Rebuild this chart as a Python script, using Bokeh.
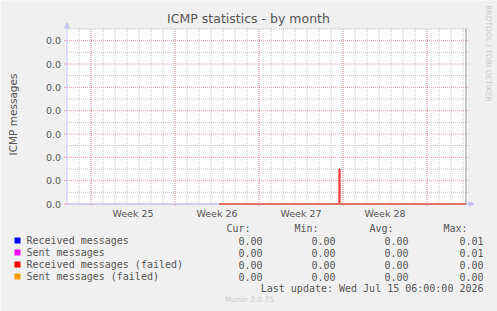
import math
import pandas as pd
from bokeh.plotting import figure
from bokeh.models import Range1d, Arrow, NormalHead, ColumnDataSource
from bokeh.core.properties import value
from bokeh.embed import file_html
from bokeh.resources import INLINE

# ---------------- data ----------------
title = "ICMP statistics - by month"
y_label = "ICMP messages"
watermark = "RRDTOOL / TOBI OETIKER"
footer = "Munin 2.0.75"
last_update = "Last update: Wed Jul 15 06:00:00 2026"

series_names = ["Received messages", "Sent messages",
                "Received messages (failed)", "Sent messages (failed)"]
times = ["2026-06-25 16:00", "2026-07-05 16:00", "2026-07-05 18:00",
         "2026-07-16 06:00"]
received = [0.0, 0.0, 0.0, 0.0]
sent = [0.0, 0.0, 0.0, 0.0]
received_failed = [0.0, 0.0015, 0.0, 0.0]
sent_failed = [0.0, 0.0, 0.0, 0.0]

stat_headers = ["Cur:", "Min:", "Avg:", "Max:"]
cur_vals = ["0.00", "0.00", "0.00", "0.00"]
min_vals = ["0.00", "0.00", "0.00", "0.00"]
avg_vals = ["0.00", "0.00", "0.00", "0.00"]
max_vals = ["0.01", "0.01", "0.00", "0.00"]

week_labels = ["Week 25", "Week 26", "Week 27", "Week 28"]
week_starts = ["2026-06-15", "2026-06-22", "2026-06-29", "2026-07-06", "2026-07-13"]
y_ticks = [0.0, 0.001, 0.002, 0.003, 0.004, 0.005, 0.006, 0.007]
y_minor = [0.0005, 0.0015, 0.0025, 0.0035, 0.0045, 0.0055, 0.0065, 0.0075]
x_start_time = "2026-06-13 00:00"
x_end_time = "2026-07-16 10:00"
y_max = 0.0075

# ---------------- styles / layout ----------------
colors = ["#0000ff", "#ff00ff", "#ff0000", "#ff9900"]
W, H = 497, 311
L, R, T, B = 66.5, 467.5, 28.5, 203.5      # chart area in canvas pixels
TXT = "#555555"
AXIS = "#c4c4f0"
MAJ = "#e8a0a0"
MIN = "#c4c4c4"
SANS = "DejaVu Sans"
MONO = "DejaVu Sans Mono"


def ms(t):
    return pd.Timestamp(t).value / 1e6


DAY = 86400000.0
x0, x1 = ms(x_start_time), ms(x_end_time)
week_ms = [ms(t) for t in week_starts]
week_mid = [w + 3.5 * DAY for w in week_ms[:len(week_labels)]]
day_ticks = []
d = math.ceil(x0 / DAY) * DAY + DAY
while d < x1:
    day_ticks.append(d)
    d += DAY

# The whole canvas is the frame; default ranges are canvas pixels (y down).
p = figure(width=W, height=H, title=None,
           x_range=Range1d(0, W), y_range=Range1d(H, 0),
           min_border=0, min_border_left=0, min_border_right=0,
           min_border_top=0, min_border_bottom=0,
           x_axis_type=None, y_axis_type=None,
           background_fill_color="#f0f0f0", border_fill_color="#f0f0f0",
           outline_line_color=None, toolbar_location=None,
           output_backend="svg")
p.grid.visible = False

# data ranges mapped onto the chart area
kx = (x1 - x0) / (R - L)
ky = y_max / (B - T)
p.extra_x_ranges = {"t": Range1d(x0 - L * kx, x1 + (W - R) * kx)}
p.extra_y_ranges = {"v": Range1d(-(H - B) * ky, y_max + T * ky)}
TV = dict(x_range_name="t", y_range_name="v")

# chart background
p.quad(left=[x0], right=[x1], bottom=[0], top=[y_max], fill_color="white",
       line_color=None, **TV)

# grid lines
p.segment(x0=day_ticks, x1=day_ticks, y0=[0] * len(day_ticks),
          y1=[y_max] * len(day_ticks), line_color=MIN, line_dash="1 1", **TV)
p.segment(x0=[x0] * len(y_minor), x1=[x1] * len(y_minor), y0=y_minor, y1=y_minor,
          line_color=MIN, line_dash="1 1", **TV)
p.segment(x0=week_ms, x1=week_ms, y0=[0] * len(week_ms),
          y1=[y_max] * len(week_ms), line_color=MAJ, line_dash="1 1", **TV)
p.segment(x0=[x0] * len(y_ticks), x1=[x1] * len(y_ticks), y0=y_ticks, y1=y_ticks,
          line_color=MAJ, line_dash="1 1", **TV)

# y tick marks and labels
p.segment(x0=[L - 3] * len(y_ticks), x1=[L] * len(y_ticks), y0=y_ticks, y1=y_ticks,
          line_color=MAJ, y_range_name="v")
p.text(x=[L - 6] * len(y_ticks), y=y_ticks, text=[f"{v:.1f}" for v in y_ticks],
       text_font=value(SANS), text_font_size="9.5px", text_color=TXT,
       text_align="right", text_baseline="middle", y_range_name="v")

# x tick marks and labels
p.segment(x0=week_ms, x1=week_ms, y0=[B] * len(week_ms), y1=[B + 2] * len(week_ms),
          line_color=MAJ, x_range_name="t")
p.text(x=week_mid, y=[B + 9.5] * len(week_mid), text=week_labels,
       text_font=value(SANS), text_font_size="9.5px", text_color=TXT,
       text_align="center", text_baseline="middle", x_range_name="t")

# axes lines + arrows
p.segment(x0=[L, L], x1=[L, R], y0=[B, B], y1=[T, B], line_color=AXIS)
p.add_layout(Arrow(x_start=L, y_start=T, x_end=L, y_end=T - 6, line_color=AXIS,
                   end=NormalHead(size=5, fill_color=AXIS, line_color=AXIS)))
p.add_layout(Arrow(x_start=R, y_start=B, x_end=R + 6, y_end=B, line_color=AXIS,
                   end=NormalHead(size=5, fill_color=AXIS, line_color=AXIS)))

# series (stepped, as rrdtool draws them)
src = ColumnDataSource(dict(t=[ms(t) for t in times], r=received, s=sent,
                            rf=received_failed, sf=sent_failed))
for key, c in zip(["r", "s", "rf", "sf"], colors):
    p.step("t", key, source=src, mode="after", line_color=c, line_width=1, **TV)

# x axis drawn again over the data (rrdtool paints axes last)
p.segment(x0=[L], x1=[R], y0=[B], y1=[B], line_color=AXIS, line_alpha=0.5)

# rule at end of data
p.segment(x0=[ms(times[-1])], x1=[ms(times[-1])], y0=[0], y1=[y_max],
          line_color="#8a8a8a", line_width=1, **TV)


def txt(xs, ys, texts, size, color=TXT, font=SANS, align="left", angle=0.0):
    p.text(x=xs, y=ys, text=texts, text_font=value(font), text_font_size=size,
           text_color=color, text_align=align, text_baseline="middle", angle=angle)


txt([248], [18], [title], "12.5px", align="center")
txt([12], [114], [y_label], "10.5px", align="center", angle=math.pi / 2)
txt([488], [53], [watermark], "7.5px", color="#c8c8c8", align="center",
    angle=-math.pi / 2)

row_y = [240, 252, 264, 276]
p.quad(left=[14] * 4, right=[20] * 4, top=[y - 3 for y in row_y],
       bottom=[y + 3 for y in row_y], fill_color=colors, line_color=None)
txt([26] * 4, row_y, series_names, "10px", font=MONO)

hdr_x = [250, 318, 393, 467]
val_x = [262, 335, 408, 483]
txt(hdr_x, [228] * 4, stat_headers, "10px", font=MONO, align="right")
for vx, col in zip(val_x, [cur_vals, min_vals, avg_vals, max_vals]):
    txt([vx] * 4, row_y, col, "10px", font=MONO, align="right")

txt([483], [288], [last_update], "10px", font=MONO, align="right")
txt([249], [299], [footer], "7.5px", color="#c8c8c8", align="center")

open("out.html", "w").write(file_html(p, INLINE))
